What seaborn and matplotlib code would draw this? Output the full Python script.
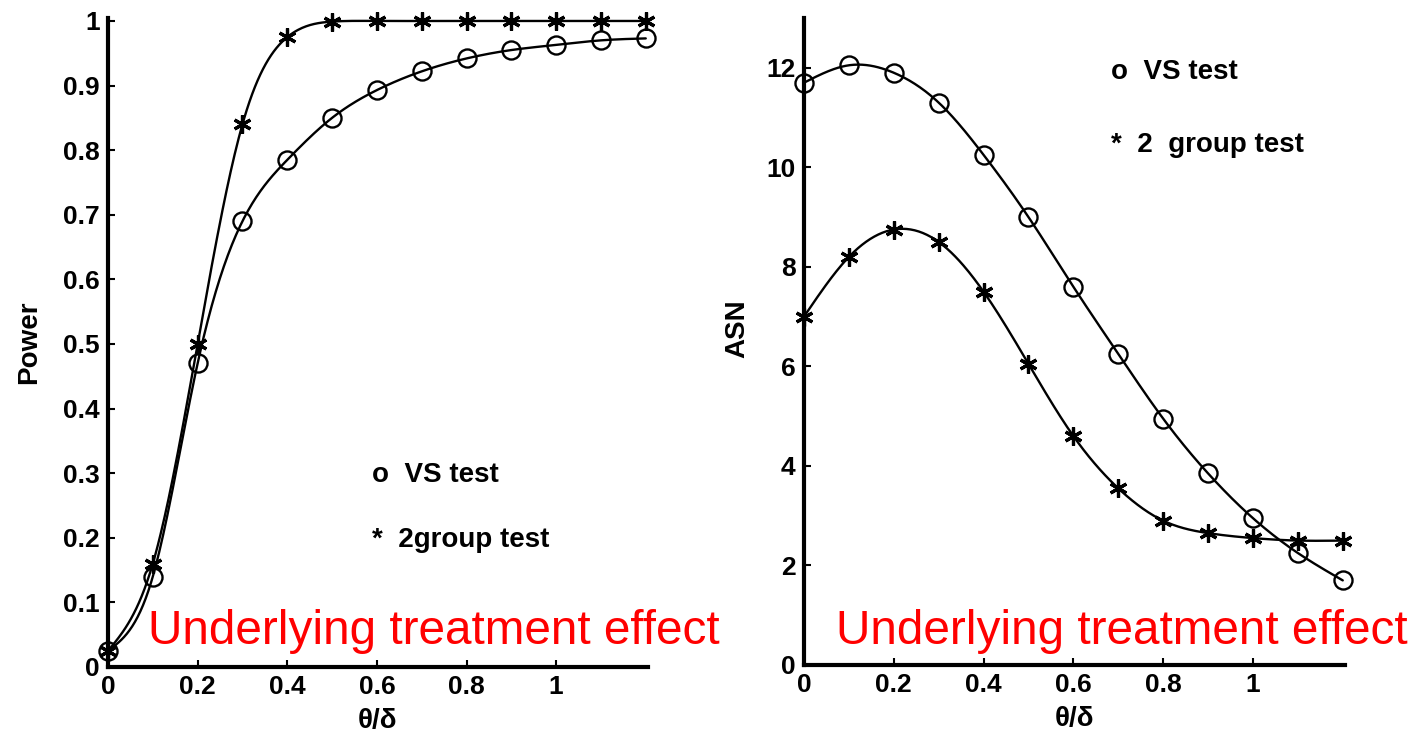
import numpy as np
import pandas as pd
import matplotlib
matplotlib.use("Agg")
import matplotlib.pyplot as plt
import seaborn as sns

# ---- data ----
theta = [0.0, 0.1, 0.2, 0.3, 0.4, 0.5, 0.6, 0.7, 0.8, 0.9, 1.0, 1.1, 1.2]
power_vs = [0.025, 0.14, 0.47, 0.69, 0.785, 0.85, 0.893, 0.922, 0.942, 0.955, 0.963, 0.970, 0.973]
power_2g = [0.025, 0.16, 0.50, 0.84, 0.975, 0.999, 1.0, 1.0, 1.0, 1.0, 1.0, 1.0, 1.0]
asn_vs = [11.7, 12.05, 11.9, 11.3, 10.25, 9.0, 7.6, 6.25, 4.95, 3.85, 2.95, 2.25, 1.7]
asn_2g = [7.0, 8.2, 8.75, 8.5, 7.5, 6.05, 4.6, 3.55, 2.9, 2.65, 2.55, 2.5, 2.5]

power_ticks = [0, 0.1, 0.2, 0.3, 0.4, 0.5, 0.6, 0.7, 0.8, 0.9, 1.0]
power_ticklabels = ["0", "0.1", "0.2", "0.3", "0.4", "0.5", "0.6", "0.7", "0.8", "0.9", "1"]
x_ticks = [0, 0.2, 0.4, 0.6, 0.8, 1.0]
x_ticklabels = ["0", "0.2", "0.4", "0.6", "0.8", "1"]
asn_ticks = [0, 2, 4, 6, 8, 10, 12]
asn_ticklabels = ["0", "2", "4", "6", "8", "10", "12"]

annot_text = "Underlying treatment effect"


def natural_spline(x, y, n=400):
    """Smooth rendering curve (natural cubic spline) through the data points."""
    x = np.asarray(x, float)
    y = np.asarray(y, float)
    m = len(x)
    h = np.diff(x)
    A = np.zeros((m, m))
    b = np.zeros(m)
    A[0, 0] = 1
    A[-1, -1] = 1
    for i in range(1, m - 1):
        A[i, i - 1] = h[i - 1]
        A[i, i] = 2 * (h[i - 1] + h[i])
        A[i, i + 1] = h[i]
        b[i] = 3 * ((y[i + 1] - y[i]) / h[i] - (y[i] - y[i - 1]) / h[i - 1])
    c = np.linalg.solve(A, b)
    xs = np.linspace(x[0], x[-1], n)
    idx = np.clip(np.searchsorted(x, xs) - 1, 0, m - 2)
    bb = (y[1:] - y[:-1]) / h - h * (2 * c[:-1] + c[1:]) / 3
    d = (c[1:] - c[:-1]) / (3 * h)
    dx = xs - x[idx]
    ys = y[idx] + bb[idx] * dx + c[idx] * dx ** 2 + d[idx] * dx ** 3
    return xs, ys


sns.set_theme(style="ticks")
plt.rcParams["font.family"] = ["Liberation Sans", "DejaVu Sans"]
plt.rcParams["font.weight"] = "bold"
plt.rcParams["text.color"] = "black"
plt.rcParams["axes.labelcolor"] = "black"
plt.rcParams["xtick.color"] = "black"
plt.rcParams["ytick.color"] = "black"

TICK_FS = 19
LBL_FS = 20
LEG_FS = 20

fig = plt.figure(figsize=(14.14, 7.45), dpi=100)
ax1 = fig.add_axes([108 / 1414, 1 - 667 / 745, 540 / 1414, 649 / 745])
ax2 = fig.add_axes([804 / 1414, 1 - 665 / 745, 541 / 1414, 647 / 745])

asterisk = (6, 2, 0)


def draw(ax, yvs, y2g):
    for yy, mk, mew in [(yvs, "o", 1.7), (y2g, asterisk, 2.3)]:
        xs, ys = natural_spline(theta, yy)
        sns.lineplot(x=xs, y=ys, ax=ax, color="black", linewidth=1.7, sort=False,
                     estimator=None, clip_on=False)
        sns.lineplot(x=theta, y=yy, ax=ax, color="black", linestyle="", marker=mk,
                     markersize=13, markerfacecolor="none", markeredgecolor="black",
                     markeredgewidth=mew, estimator=None, clip_on=False)
    sns.despine(ax=ax)
    for s in ["left", "bottom"]:
        ax.spines[s].set_linewidth(3)
        ax.spines[s].set_color("black")
    ax.tick_params(direction="in", length=5, width=1.5, labelsize=TICK_FS, colors="black", pad=6)
    ax.set_xlim(0, 1.205)
    ax.set_xticks(x_ticks)
    ax.set_xticklabels(x_ticklabels, fontweight="bold")
    ax.set_xlabel("θ/δ", fontsize=LBL_FS, fontweight="bold", labelpad=6)
    ax.set_facecolor("none")


draw(ax1, power_vs, power_2g)
ax1.set_ylim(0, 1.0046)
ax1.set_yticks(power_ticks)
ax1.set_yticklabels(power_ticklabels, fontweight="bold")
ax1.set_ylabel("Power", fontsize=LBL_FS, fontweight="bold")
ax1.yaxis.set_label_coords(-0.122, 0.50)
ax1.text(0.59, 0.297, "o  VS test", fontsize=LEG_FS, fontweight="bold", va="center", ha="left")
ax1.text(0.59, 0.196, "*  2group test", fontsize=LEG_FS, fontweight="bold", va="center", ha="left")

draw(ax2, asn_vs, asn_2g)
ax2.set_ylim(0, 13)
ax2.set_yticks(asn_ticks)
ax2.set_yticklabels(asn_ticklabels, fontweight="bold")
ax2.set_ylabel("ASN", fontsize=LBL_FS, fontweight="bold")
ax2.yaxis.set_label_coords(-0.10, 0.52)
ax2.text(0.683, 11.92, "o  VS test", fontsize=LEG_FS, fontweight="bold", va="center", ha="left")
ax2.text(0.683, 10.45, "*  2  group test", fontsize=LEG_FS, fontweight="bold", va="center", ha="left")

fig.text(148 / 1414, 1 - 632 / 745, annot_text, color="red", fontsize=34.4,
         fontweight="normal", va="center", ha="left")
fig.text(836 / 1414, 1 - 632 / 745, annot_text, color="red", fontsize=34.4,
         fontweight="normal", va="center", ha="left")

fig.savefig("out.png", dpi=100, facecolor="white")
